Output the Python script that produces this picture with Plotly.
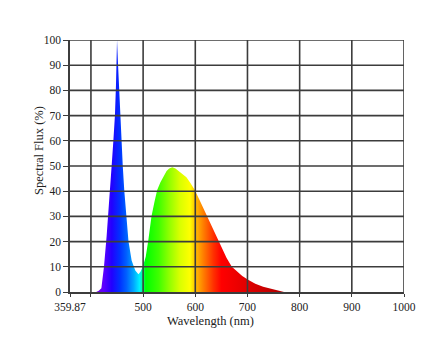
import plotly.graph_objects as go

# Relative spectral flux of a white LED (blue pump + phosphor hump)
wavelength_nm = [410, 415, 420, 425, 430, 435, 440, 443, 446, 448, 450, 452, 454, 456,
                 458, 461, 464, 468, 472, 478, 485, 491, 495, 500, 505, 510, 516, 522,
                 527, 533, 539, 545, 550, 556, 562, 568, 575, 583, 590, 599, 607, 615,
                 622, 631, 641, 650, 660, 670, 680, 690, 702, 715, 730, 745, 760, 770]
spectral_flux = [0, 0.5, 1.5, 10, 22, 35, 51, 60, 70, 82, 100, 90, 80, 69,
                 61, 50, 40, 31, 20, 12.5, 8.5, 7, 8, 10.5, 14, 20.5, 30, 36,
                 40.5, 43.5, 46, 48, 49, 49.5, 49, 48, 47, 45.5, 43.5, 40.5, 37, 33.5,
                 30, 26, 22, 18, 13.5, 10, 8, 6.3, 4.8, 3.3, 2.1, 1.2, 0.5, 0]

# Axis ticks
x_tick_vals = [359.87, 400, 500, 600, 700, 800, 900, 1000]
x_tick_text = ["359.87", "", "500", "600", "700", "800", "900", "1000"]
y_tick_vals = [0, 10, 20, 30, 40, 50, 60, 70, 80, 90, 100]

# Visible-spectrum colours used for the gradient fill (wavelength, colour)
spectrum_wl = [410, 425, 440, 455, 468, 482, 493, 499, 505, 530, 550, 570,
               590, 600, 615, 635, 650, 700, 770]
spectrum_col = ["#7a00e0", "#5a00ff", "#2200ff", "#0030ff", "#0060ff", "#00a8ff",
                "#00f0ff", "#00ff90", "#00ff00", "#40ff00", "#90ff00", "#d8ff00",
                "#ffff00", "#ffc000", "#ff8000", "#ff3000", "#ff0000", "#e00000",
                "#b00000"]

g_start, g_stop = spectrum_wl[0], spectrum_wl[-1]
colorscale = [[(w - g_start) / (g_stop - g_start), c]
              for w, c in zip(spectrum_wl, spectrum_col)]

FONT = "Liberation Serif"
GRID = "#3c3c3c"

fig = go.Figure()
fig.add_trace(go.Scatter(
    x=wavelength_nm, y=spectral_flux, mode="lines",
    line=dict(width=0, color="rgba(0,0,0,0)"),
    fill="tozeroy",
    fillgradient=dict(type="horizontal", colorscale=colorscale,
                      start=g_start, stop=g_stop),
    hoverinfo="skip", showlegend=False,
))

# Grid drawn over the filled spectrum
for xv in x_tick_vals[1:]:
    fig.add_shape(type="line", xref="x", yref="y", x0=xv, x1=xv, y0=0, y1=100,
                  layer="above", line=dict(color=GRID, width=1.6))
for yv in y_tick_vals[1:]:
    fig.add_shape(type="line", xref="x", yref="y", x0=x_tick_vals[0], x1=1000,
                  y0=yv, y1=yv, layer="above", line=dict(color=GRID, width=1.6))

fig.update_xaxes(
    range=[359.87, 1000], tickmode="array", tickvals=x_tick_vals, ticktext=x_tick_text,
    showgrid=False, zeroline=False, showline=True, linecolor=GRID, linewidth=1.6,
    ticks="outside", ticklen=3, tickwidth=1.2, tickcolor=GRID,
    tickfont=dict(family=FONT, size=11.5, color="#222"), layer="above traces",
)
fig.update_yaxes(
    range=[0, 100], tickmode="array", tickvals=y_tick_vals,
    showgrid=False, zeroline=False, showline=True, linecolor=GRID, linewidth=1.6,
    ticks="outside", ticklen=5, tickwidth=1.2, tickcolor=GRID,
    tickfont=dict(family=FONT, size=11.5, color="#222"), layer="above traces",
)

fig.add_annotation(text="Wavelength (nm)", xref="paper", yref="paper",
                   x=(210 - 70) / 334, y=-(321 - 292) / 252, showarrow=False,
                   xanchor="center", yanchor="middle",
                   font=dict(family=FONT, size=12.5, color="#222"))
fig.add_annotation(text="Spectral Flux (%)", xref="paper", yref="paper",
                   x=-(70 - 39) / 334, y=(292 - 151) / 252, showarrow=False,
                   textangle=-90, xanchor="center", yanchor="middle",
                   font=dict(family=FONT, size=12.5, color="#222"))

fig.update_layout(
    width=438, height=337,
    margin=dict(l=70, r=34, t=40, b=45),
    paper_bgcolor="white", plot_bgcolor="white",
)

fig.write_html("out.html")
